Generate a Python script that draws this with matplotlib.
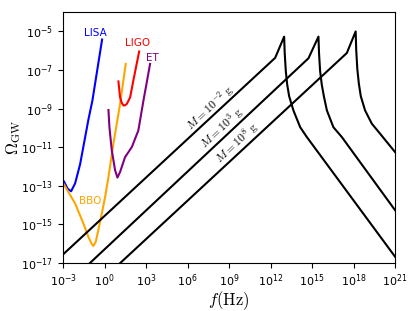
import numpy as np
import matplotlib
matplotlib.use("Agg")
from matplotlib import pyplot
from matplotlib.ticker import NullLocator, FixedLocator

pyplot.rcParams['mathtext.fontset'] = 'cm'

# --------------------------------------------------------------------------
# values, stored as log10(f/Hz) and log10(Omega_GW)

lisa_logf = [-2.93, -2.67, -2.42, -2.13, -1.77, -1.17, -0.88, -0.18]
lisa_logo = [-12.78, -13.15, -13.28, -12.87, -11.88, -9.57, -8.58, -5.42]

bbo_logf = [-2.98, -2.13, -1.53, -1.17, -0.92, -0.81, -0.64, -0.45, -0.20,
            0.04, 0.28, 0.64, 1.12, 1.53]
bbo_logo = [-12.88, -13.91, -14.95, -15.64, -16.02, -16.11, -15.90, -15.29,
            -14.43, -13.57, -12.54, -10.81, -8.75, -6.68]

ligo_logf = [1.00, 1.12, 1.23, 1.36, 1.48, 1.61, 1.85, 2.08, 2.50]
ligo_logo = [-7.59, -8.41, -8.68, -8.83, -8.83, -8.75, -8.41, -7.54, -6.04]

et_logf = [0.28, 0.35, 0.52, 0.76, 0.93, 1.12, 1.48, 1.97, 2.44, 2.81, 3.29]
et_logo = [-9.07, -9.96, -11.16, -12.19, -12.57, -12.28, -11.51, -10.99,
           -10.13, -8.58, -6.68]

pbh_masses = ["10^{-2}", "10^{3}", "10^{8}"]
pbh_logf = [
    [-3.0, 12.33, 12.98, 13.02, 13.10, 13.20, 13.34, 13.65, 14.14, 14.62, 21.0],
    [-3.0, 14.74, 15.46, 15.50, 15.58, 15.70, 15.85, 16.07, 16.54, 17.15, 21.0],
    [-3.0, 17.51, 18.15, 18.19, 18.27, 18.38, 18.52, 18.83, 19.32, 19.92, 21.0],
]
pbh_logo = [
    [-16.55, -6.37, -5.27, -6.10, -7.05, -7.75, -8.35, -9.09, -9.96, -10.47, -16.67],
    [-18.30, -6.39, -5.27, -6.10, -7.05, -7.75, -8.35, -9.09, -9.96, -10.47, -14.26],
    [-19.74, -6.12, -5.00, -5.95, -6.95, -7.70, -8.35, -9.09, -9.78, -10.30, -11.25],
]
pbh_label_logf = [7.63, 8.50, 9.58]
pbh_label_logo = [-8.94, -9.97, -10.75]

detectors = [
    ("LISA", lisa_logf, lisa_logo, "blue", -0.69, -5.06),
    ("BBO", bbo_logf, bbo_logo, "orange", -1.05, -13.80),
    ("LIGO", ligo_logf, ligo_logo, "red", 2.42, -5.60),
    ("ET", et_logf, et_logo, "purple", 3.44, -6.38),
]

xticks = [1e-3, 1e0, 1e3, 1e6, 1e9, 1e12, 1e15, 1e18, 1e21]
yticks = [1e-17, 1e-15, 1e-13, 1e-11, 1e-9, 1e-7, 1e-5]

# --------------------------------------------------------------------------

def p10(v):
    return np.power(10.0, np.asarray(v))

fig = pyplot.figure(figsize=(4.15, 3.11), dpi=100)
ax = fig.add_axes([0.152, 0.154, 0.800, 0.807])

for name, lf, lo, color, tx, ty in detectors:
    ax.plot(p10(lf), p10(lo), color=color, lw=1.5)
    ax.text(p10(tx), p10(ty), name, color=color, fontsize=7.5,
            ha="center", va="center")

for lf, lo in zip(pbh_logf, pbh_logo):
    ax.plot(p10(lf), p10(lo), color="black", lw=1.5)

for m, tx, ty in zip(pbh_masses, pbh_label_logf, pbh_label_logo):
    ax.text(p10(tx), p10(ty), r"$M = %s\ {\rm g}$" % m, fontsize=8.5,
            rotation=43, ha="center", va="center", rotation_mode="anchor")

ax.set_xscale("log")
ax.set_yscale("log")
ax.set_xlim(1e-3, 1e21)
ax.set_ylim(1e-17, 1e-4)
ax.xaxis.set_major_locator(FixedLocator(xticks))
ax.yaxis.set_major_locator(FixedLocator(yticks))
ax.xaxis.set_minor_locator(NullLocator())
ax.yaxis.set_minor_locator(NullLocator())
ax.tick_params(labelsize=8)
ax.set_xlabel(r"$f({\rm Hz})$", fontsize=12, labelpad=0)
ax.set_ylabel(r"$\Omega_{\rm GW}$", fontsize=12, labelpad=-1)

fig.savefig("out.png", dpi=100)
